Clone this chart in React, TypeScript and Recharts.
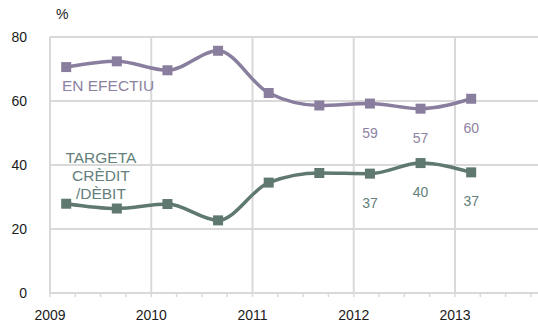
import React from "react";
import { LineChart, Line, XAxis, YAxis, CartesianGrid, LabelList, ReferenceDot } from "recharts";

const xPositions = [2009.16, 2009.66, 2010.16, 2010.66, 2011.16, 2011.66, 2012.16, 2012.66, 2013.16];
const cashValues = [70.6, 72.4, 69.6, 75.7, 62.5, 58.6, 59.2, 57.6, 60.7];
const cardValues = [27.9, 26.4, 27.8, 22.7, 34.5, 37.5, 37.3, 40.6, 37.7];
const cashLabels: (number | null)[] = [null, null, null, null, null, null, 59, 57, 60];
const cardLabels: (number | null)[] = [null, null, null, null, null, null, 37, 40, 37];
const yearTicks = [2009, 2010, 2011, 2012, 2013];
const quarterTicks = [
  2009, 2009.25, 2009.5, 2009.75, 2010, 2010.25, 2010.5, 2010.75, 2011, 2011.25, 2011.5, 2011.75,
  2012, 2012.25, 2012.5, 2012.75, 2013, 2013.25, 2013.5, 2013.75,
];
const yTicks = [0, 20, 40, 60, 80];
const cashName = "EN EFECTIU";
const cardNameLines = ["TARGETA", "CRÈDIT", "/DÈBIT"];

const data = xPositions.map((x, i) => ({
  x,
  cash: cashValues[i],
  card: cardValues[i],
  cashLabel: cashLabels[i],
  cardLabel: cardLabels[i],
}));

const PURPLE = "#8a7e9e";
const GREEN = "#5f7870";
const PURPLE_TEXT = "#8d82a1";
const GREEN_TEXT = "#64807a";
const GRID = "#d9d9d9";
const FONT = "'Liberation Sans', Arial, sans-serif";

const squareDot = (color: string) => (props: any) => {
  const { cx, cy, index } = props;
  if (cx == null || cy == null) return <g key={index} />;
  return <rect key={index} x={cx - 5} y={cy - 5} width={10} height={10} fill={color} />;
};

const belowLabel = (color: string) => (props: any) => {
  const { x, y, value, index } = props;
  if (value == null) return <g key={index} />;
  return (
    <text key={index} x={x} y={y + 34} textAnchor="middle" fill={color} fontSize={14} fontFamily={FONT}>
      {value}
    </text>
  );
};

export default function App() {
  return (
    <div style={{ position: "absolute", left: 0, top: 0, width: 538, height: 324, background: "#fff" }}>
      <LineChart
        width={538}
        height={324}
        data={data}
        margin={{ top: 37, right: 0, bottom: 0, left: 0 }}
      >
        <CartesianGrid
          stroke={GRID}
          strokeWidth={2}
          verticalValues={yearTicks}
          horizontalValues={yTicks}
        />
        <XAxis
          dataKey="x"
          type="number"
          domain={[2009, 2013.82]}
          ticks={quarterTicks}
          interval={0}
          tickFormatter={(v: number) => (Math.abs(v - Math.round(v)) < 1e-6 ? String(Math.round(v)) : "")}
          height={31}
          tickSize={4}
          tickMargin={13}
          axisLine={{ stroke: GRID, strokeWidth: 2 }}
          tickLine={{ stroke: GRID, strokeWidth: 1.5 }}
          tick={{ fill: "#1a1a1a", fontSize: 14, fontFamily: FONT }}
          allowDataOverflow
        />
        <YAxis
          type="number"
          domain={[0, 80]}
          ticks={yTicks}
          width={50}
          axisLine={false}
          tickLine={false}
          tickSize={0}
          tickMargin={23}
          tick={{ fill: "#1a1a1a", fontSize: 14, fontFamily: FONT }}
          label={{ value: "%", position: "top", offset: 0, content: (p: any) => (
            <text x={56} y={19} fill="#1a1a1a" fontSize={14} fontFamily={FONT}>%</text>
          ) }}
        />
        <Line
          type="monotone"
          dataKey="cash"
          stroke={PURPLE}
          strokeWidth={3.5}
          dot={squareDot(PURPLE)}
          activeDot={false}
          isAnimationActive={false}
        >
          <LabelList dataKey="cashLabel" content={belowLabel(PURPLE_TEXT)} />
        </Line>
        <Line
          type="monotone"
          dataKey="card"
          stroke={GREEN}
          strokeWidth={3.5}
          dot={squareDot(GREEN)}
          activeDot={false}
          isAnimationActive={false}
        >
          <LabelList dataKey="cardLabel" content={belowLabel(GREEN_TEXT)} />
        </Line>
        <ReferenceDot
          x={2009.118}
          y={63.2}
          r={0}
          ifOverflow="visible"
          shape={(p: any) => (
            <text x={p.cx} y={p.cy} fill={PURPLE_TEXT} fontSize={15.5} fontFamily={FONT}>
              {cashName}
            </text>
          )}
        />
        <ReferenceDot
          x={2009.503}
          y={40.6}
          r={0}
          ifOverflow="visible"
          shape={(p: any) => (
            <text x={p.cx} y={p.cy} fill={GREEN_TEXT} fontSize={15.5} fontFamily={FONT} textAnchor="middle">
              {cardNameLines.map((t, i) => (
                <tspan key={i} x={p.cx} dy={i === 0 ? 0 : 18}>
                  {t}
                </tspan>
              ))}
            </text>
          )}
        />
      </LineChart>
    </div>
  );
}
